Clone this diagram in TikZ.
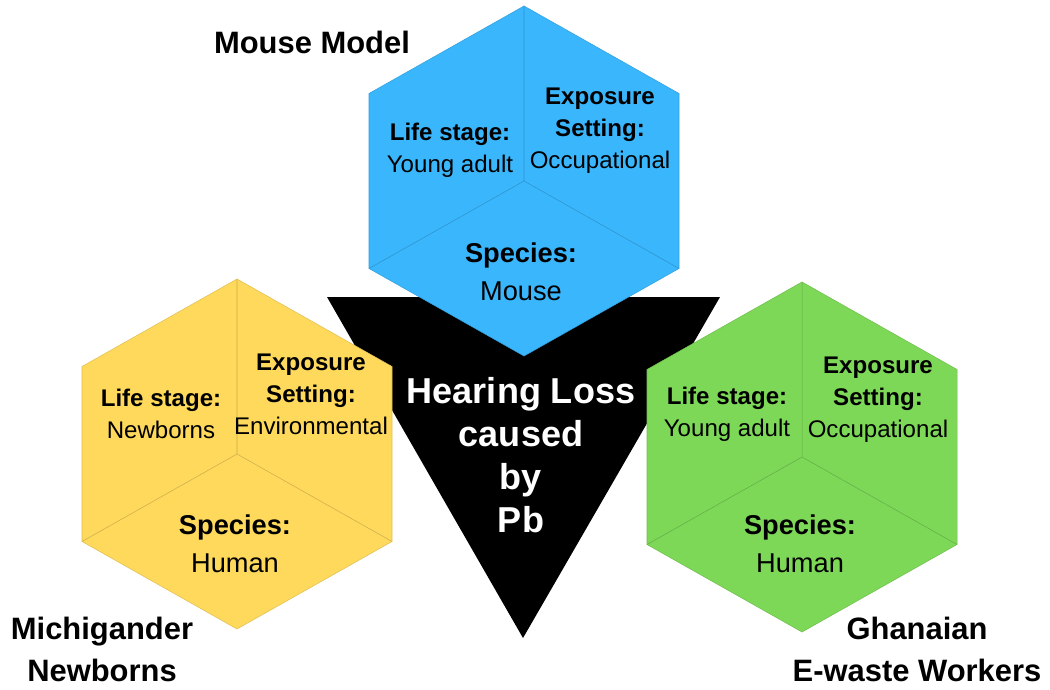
\documentclass[tikz,border=0pt]{standalone}
\usepackage{fontspec}
\setmainfont{Liberation Sans}
\usetikzlibrary{calc}

\definecolor{mouseblue}{RGB}{58,182,253}
\definecolor{babyyellow}{RGB}{254,217,92}
\definecolor{workgreen}{RGB}{126,216,88}

\begin{document}
\begin{tikzpicture}[
  x=0.02cm, y=-0.02cm,
  group/.style  = {font=\fontsize{17.6}{24.4}\selectfont\bfseries, align=center},
  facet/.style  = {font=\fontsize{13.7}{18.3}\selectfont, align=center},
  kind/.style   = {font=\fontsize{15.5}{21.5}\selectfont, align=center},
  center/.style = {font=\fontsize{20.5}{24.5}\selectfont\bfseries,
                   text=white, align=center}
]

% ---- constants ----
\def\R{175}        % hexagon radius (px)
\def\W{155}        % half width, a bit over (sqrt3/2)*R

\useasboundingbox (0,0) rectangle (1050,689);

% ---- black triangle behind ----
\coordinate (tl) at (327,297);
\coordinate (tr) at (720,297);
\coordinate (tb) at (523,638);
\fill[black] (tl) -- (tr) -- (tb) -- cycle;

% ---- hexagons (cube look) ----
\foreach \n/\cx/\cy/\col in {mouse/524/181/mouseblue,
                             baby/237/454/babyyellow,
                             work/802/457/workgreen} {
  \coordinate (\n)    at (\cx,\cy);
  \coordinate (\n-n)  at ($(\n)+(0,-\R)$);
  \coordinate (\n-ne) at ($(\n)+(\W,-\R/2)$);
  \coordinate (\n-se) at ($(\n)+(\W,\R/2)$);
  \coordinate (\n-s)  at ($(\n)+(0,\R)$);
  \coordinate (\n-sw) at ($(\n)+(-\W,\R/2)$);
  \coordinate (\n-nw) at ($(\n)+(-\W,-\R/2)$);
  \filldraw[fill=\col, draw=\col!88!black, line width=0.3pt]
    (\n-n) -- (\n-ne) -- (\n-se) -- (\n-s) -- (\n-sw) -- (\n-nw) -- cycle;
  \draw[\col!80!black, line width=0.3pt]
    (\n-n) -- (\n) (\n-sw) -- (\n) -- (\n-se);
}

% ---- mouse model ----
\node[facet] (mouse-life) at (450,150.5) {\textbf{Life stage:}\\Young adult};
\node[facet] (mouse-exp)  at (600,131) {\textbf{Exposure}\\\textbf{Setting:}\\Occupational};
\node[kind]  (mouse-spec) at (521,272) {\textbf{Species:}\\Mouse};

% ---- newborns ----
\node[facet] (baby-life) at (161,414) {\textbf{Life stage:}\\Newborns};
\node[facet] (baby-exp)  at (311,394.5) {\textbf{Exposure}\\\textbf{Setting:}\\Environmental};
\node[kind]  (baby-spec) at (235,543.5) {\textbf{Species:}\\Human};

% ---- e-waste workers ----
\node[facet] (work-life) at (727,414) {\textbf{Life stage:}\\Young adult};
\node[facet] (work-exp)  at (878,399.5) {\textbf{Exposure}\\\textbf{Setting:}\\Occupational};
\node[kind]  (work-spec) at (800,543.5) {\textbf{Species:}\\Human};

% ---- group names ----
\node[group] (mouse-name) at (312,42) {Mouse Model};
\node[group] (baby-name)  at (102,649.5) {Michigander\\Newborns};
\node[group] (work-name)  at (917,649.5) {Ghanaian\\E-waste Workers};

% ---- centre text ----
\node[center] (outcome) at (521,455) {Hearing Loss\\caused\\by\\Pb};

\end{tikzpicture}
\end{document}
